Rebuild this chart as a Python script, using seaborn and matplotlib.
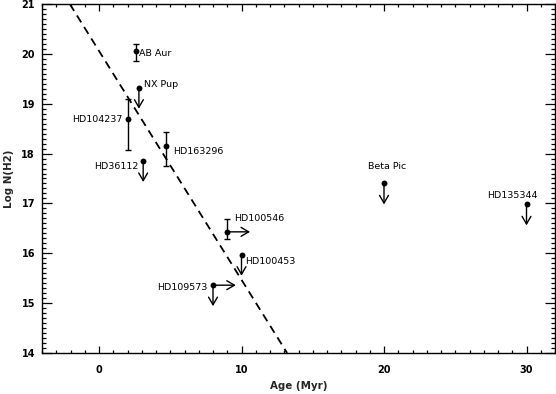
import matplotlib
matplotlib.use("Agg")
import matplotlib.pyplot as plt
from matplotlib.ticker import MultipleLocator
import seaborn as sns
import pandas as pd

# ---- data ----
names = ["AB Aur", "NX Pup", "HD104237", "HD163296", "HD36112",
         "HD100546", "HD100453", "HD109573", "Beta Pic", "HD135344"]
age = [2.6, 2.8, 2.0, 4.7, 3.1, 9.0, 10.0, 8.0, 20.0, 30.0]
logN = [20.05, 19.32, 18.69, 18.16, 17.85, 16.43, 15.97, 15.36, 17.40, 16.98]
err_lo = [0.20, 0.0, 0.62, 0.41, 0.0, 0.15, 0.0, 0.0, 0.0, 0.0]
err_hi = [0.15, 0.0, 0.40, 0.27, 0.0, 0.25, 0.0, 0.0, 0.0, 0.0]
upper_limit = [False, True, False, False, True, False, True, True, True, True]
age_lower_limit = [False, False, False, False, False, True, False, True, False, False]
fit_age = [-2.05, 13.2]
fit_logN = [21.0, 14.0]

df = pd.DataFrame({"name": names, "age": age, "logN": logN,
                   "lo": err_lo, "hi": err_hi,
                   "ul": upper_limit, "ll": age_lower_limit})

# ---- style ----
sns.set_theme(style="ticks")
plt.rcParams["font.family"] = ["DejaVu Sans"]

fig = plt.figure(figsize=(5.56, 3.94), dpi=100)
ax = fig.add_axes([42 / 556, 41 / 394, 513 / 556, 349 / 394])

# dashed fit line
sns.lineplot(x=fit_age, y=fit_logN, ax=ax, color="black", lw=1.3,
             dashes=False, linestyle=(0, (4.5, 3)))

# error bars
eb = df[(df.lo > 0) | (df.hi > 0)]
ax.errorbar(eb.age, eb.logN, yerr=[eb.lo, eb.hi], fmt="none",
            ecolor="black", elinewidth=1.0, capsize=2.5, capthick=1.0)

# points
sns.scatterplot(data=df, x="age", y="logN", ax=ax, color="black",
                s=18, edgecolor="black", linewidth=0, zorder=5)

# limit arrows
down_len = 0.42
right_len = 1.6
arrow_kw = dict(arrowstyle="->,head_length=0.55,head_width=0.32", color="black",
                lw=1.0, shrinkA=0, shrinkB=0, mutation_scale=10)
for _, r in df.iterrows():
    if r.ul:
        ax.annotate("", xy=(r.age, r.logN - down_len), xytext=(r.age, r.logN),
                    arrowprops=arrow_kw)
    if r.ll:
        ax.annotate("", xy=(r.age + right_len, r.logN), xytext=(r.age, r.logN),
                    arrowprops=arrow_kw)

# labels
label_offsets = {
    "AB Aur": ((2.2, -1.6), "left"),
    "NX Pup": ((4.0, 2.0), "left"),
    "HD104237": ((-3.4, 0.0), "right"),
    "HD163296": ((5.3, -3.9), "left"),
    "HD36112": ((-3.4, -3.6), "right"),
    "HD100546": ((5.0, 9.4), "left"),
    "HD100453": ((2.7, -5.0), "left"),
    "HD109573": ((-4.3, -1.7), "right"),
    "Beta Pic": ((-11.8, 12.5), "left"),
    "HD135344": ((-28.5, 6.5), "left"),
}
for _, r in df.iterrows():
    (dx, dy), ha = label_offsets[r["name"]]
    ax.annotate(r["name"], xy=(r.age, r.logN), xytext=(dx, dy),
                textcoords="offset points", ha=ha, va="center",
                fontsize=6.8, color="black")

ax.set_xlim(-4, 32)
ax.set_ylim(14, 21)
ax.xaxis.set_major_locator(MultipleLocator(10))
ax.xaxis.set_minor_locator(MultipleLocator(1))
ax.yaxis.set_major_locator(MultipleLocator(1))
ax.yaxis.set_minor_locator(MultipleLocator(0.1))
ax.tick_params(which="both", direction="in", top=True, right=True,
               colors="black", width=0.9)
ax.tick_params(axis="x", which="major", length=5, pad=8.5)
ax.tick_params(axis="x", which="minor", length=2.5)
ax.tick_params(axis="y", which="major", length=7, pad=5)
ax.tick_params(axis="y", which="minor", length=3)
for lab in ax.get_xticklabels() + ax.get_yticklabels():
    lab.set_fontsize(7)
    lab.set_fontweight("bold")
for sp in ax.spines.values():
    sp.set_visible(True)
    sp.set_color("black")
    sp.set_linewidth(1.0)

ax.set_xlabel("Age (Myr)", fontsize=7.4, fontweight="bold", labelpad=4.5)
ax.set_ylabel("Log N(H2)", fontsize=7.4, fontweight="bold", labelpad=5)

fig.savefig("out.png", dpi=100)
